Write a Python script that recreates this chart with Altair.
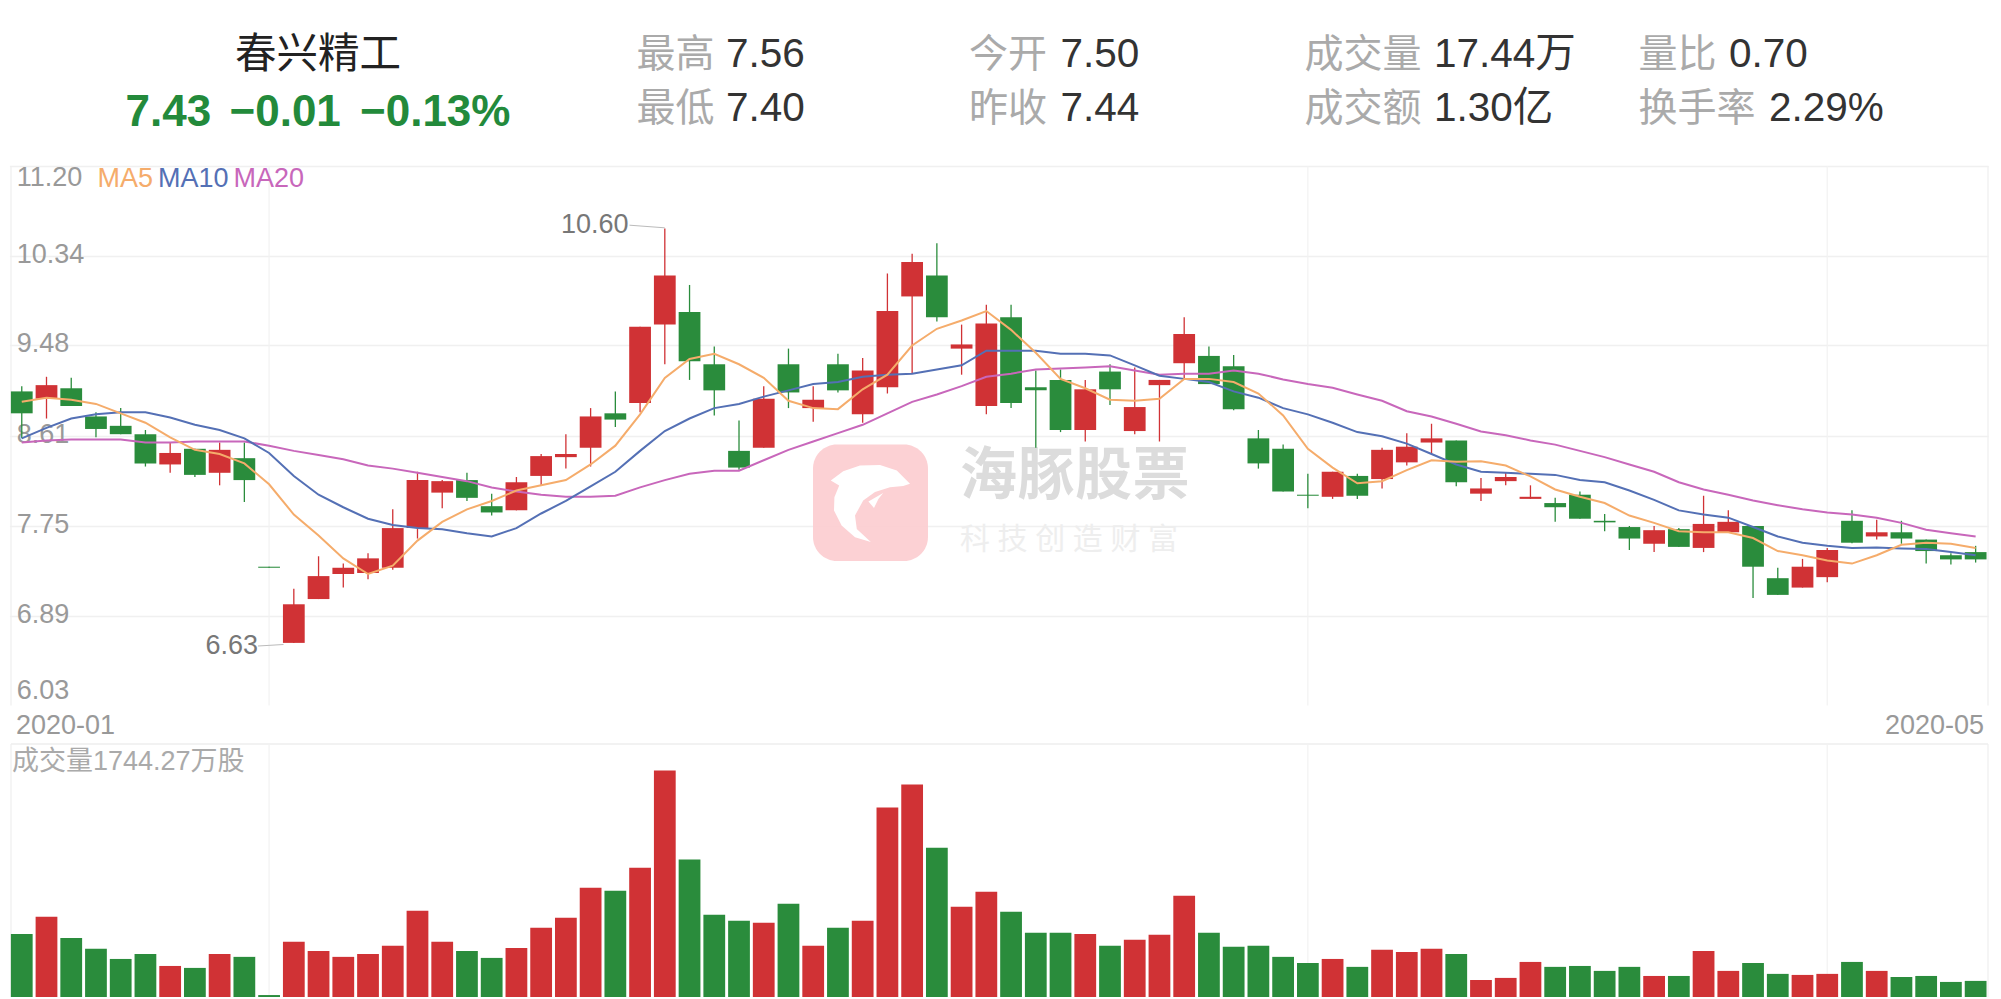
import altair as alt
import pandas as pd

body_top = [9.04,9.10,9.07,8.80,8.71,8.63,8.45,8.49,8.48,8.40,7.36,7.00,7.27,7.35,7.44,7.73,8.19,8.18,8.19,7.94,
            8.17,8.42,8.44,8.80,8.83,9.66,10.15,9.80,9.30,8.47,8.97,9.30,8.96,9.30,9.24,9.81,10.28,10.15,9.49,9.69,
            9.75,9.08,9.15,9.06,9.23,8.89,9.15,9.59,9.38,9.28,8.59,8.49,8.05,8.27,8.23,8.48,8.51,8.59,8.57,8.11,
            8.22,8.03,7.97,8.05,7.80,7.74,7.71,7.72,7.77,7.79,7.75,7.25,7.36,7.52,7.80,7.69,7.69,7.62,7.47,7.50]
body_bot = [8.83,8.97,8.90,8.68,8.63,8.35,8.34,8.24,8.26,8.19,7.35,6.63,7.05,7.29,7.30,7.35,7.73,8.07,8.02,7.88,
            7.90,8.23,8.41,8.50,8.77,8.93,9.68,9.33,9.05,8.31,8.50,9.03,8.88,9.05,8.82,9.08,9.95,9.75,9.45,8.90,
            8.93,9.05,8.67,8.67,9.06,8.66,9.10,9.31,9.11,8.87,8.35,8.08,8.04,8.03,8.04,8.20,8.36,8.55,8.17,8.06,
            8.18,8.01,7.93,7.82,7.785,7.63,7.58,7.55,7.54,7.69,7.36,7.09,7.16,7.26,7.59,7.65,7.63,7.51,7.43,7.43]
high = [9.09,9.18,9.17,8.84,8.88,8.67,8.55,8.49,8.55,8.55,7.36,7.15,7.46,7.39,7.49,7.91,8.27,8.19,8.26,8.06,
        8.22,8.44,8.63,8.88,9.04,9.66,10.60,10.06,9.47,8.76,9.09,9.45,9.09,9.40,9.36,10.17,10.36,10.46,9.68,9.87,
        9.87,9.24,9.25,9.15,9.30,9.27,9.15,9.75,9.47,9.39,8.67,8.53,8.25,8.27,8.25,8.50,8.64,8.73,8.57,8.21,
        8.26,8.14,8.02,8.08,7.865,7.75,7.75,7.73,8.04,7.90,7.75,7.35,7.435,7.54,7.90,7.81,7.80,7.62,7.49,7.56]
low = [8.59,8.78,8.90,8.60,8.63,8.32,8.26,8.22,8.14,7.98,7.35,6.63,7.05,7.16,7.24,7.33,7.63,7.92,7.99,7.85,
       7.90,8.14,8.30,8.32,8.70,8.84,9.30,9.15,8.81,8.29,8.50,8.88,8.75,9.03,8.74,9.02,9.21,9.71,9.20,8.82,
       8.88,8.50,8.65,8.56,8.91,8.63,8.56,9.16,9.11,8.86,8.30,8.08,7.92,8.01,8.01,8.11,8.33,8.44,8.13,7.99,
       8.14,8.01,7.79,7.82,7.70,7.52,7.50,7.55,7.50,7.69,7.06,7.09,7.16,7.21,7.585,7.62,7.58,7.39,7.38,7.40]
direction = list("grggggrgrgg" "rrrrrrr" "gg" "rrrr" "g" "rr" "ggg" "r" "g" "r" "g" "rrr" "g" "rr" "ggg" "r" "g" "rrr"
                 "ggggg" "r" "g" "rrr" "g" "rrr" "gggg" "r" "g" "rr" "gg" "rr" "g" "r" "gggg")
ma5 = [8.94,8.98,8.96,8.92,8.83,8.74,8.60,8.48,8.44,8.35,8.15,7.86,7.66,7.44,7.29,7.37,7.61,7.79,7.91,7.99,
       8.09,8.14,8.19,8.34,8.52,8.82,9.17,9.35,9.40,9.30,9.17,8.95,8.88,8.87,9.06,9.20,9.48,9.64,9.72,9.81,
       9.63,9.41,9.16,9.07,8.96,8.95,8.97,9.16,9.16,9.13,9.02,8.81,8.49,8.31,8.16,8.18,8.285,8.38,8.365,8.37,
       8.33,8.225,8.10,8.03,7.97,7.85,7.78,7.70,7.69,7.69,7.635,7.51,7.47,7.42,7.39,7.47,7.57,7.59,7.58,7.54]
ma10 = [8.59,8.69,8.78,8.82,8.84,8.84,8.79,8.72,8.67,8.59,8.45,8.23,8.05,7.93,7.82,7.76,7.73,7.72,7.68,7.65,
        7.73,7.87,7.99,8.13,8.27,8.47,8.66,8.78,8.88,8.92,8.99,9.05,9.11,9.13,9.18,9.20,9.21,9.25,9.29,9.43,
        9.43,9.43,9.40,9.40,9.385,9.29,9.19,9.16,9.13,9.04,8.98,8.88,8.82,8.74,8.65,8.61,8.54,8.44,8.34,8.27,
        8.26,8.25,8.24,8.19,8.17,8.09,8.00,7.90,7.86,7.83,7.74,7.65,7.59,7.56,7.54,7.545,7.535,7.53,7.50,7.47]
ma20 = [8.55,8.57,8.58,8.58,8.58,8.55,8.55,8.56,8.56,8.56,8.52,8.47,8.43,8.39,8.33,8.30,8.26,8.22,8.18,8.12,
        8.08,8.05,8.03,8.03,8.04,8.12,8.19,8.25,8.28,8.28,8.38,8.48,8.56,8.64,8.72,8.83,8.94,9.01,9.09,9.18,
        9.21,9.25,9.26,9.27,9.28,9.24,9.20,9.21,9.21,9.24,9.21,9.155,9.11,9.075,9.01,8.95,8.85,8.80,8.73,8.655,
        8.62,8.57,8.53,8.47,8.41,8.34,8.27,8.17,8.10,8.05,7.995,7.95,7.91,7.88,7.86,7.83,7.78,7.715,7.68,7.65]
volume = [486,618,455,371,293,332,239,224,332,309,15,425,355,309,332,394,664,425,355,301,
          378,533,610,841,818,996,1744.27,1058,633,587,571,718,394,533,587,1459,1636,1150,695,811,
          656,494,494,486,394,440,479,780,494,386,394,309,262,293,232,363,347,371,332,131,
          147,270,232,239,201,232,162,162,355,201,262,178,170,178,270,201,154,162,116,124]
price_ticks = [11.20, 10.34, 9.48, 8.61, 7.75, 6.89, 6.03]
month_marks = [10, 52, 73]
n = 80
for a in (body_top, body_bot, high, low, direction, ma5, ma10, ma20, volume):
    assert len(a) == n, len(a)

RED, GREEN = "#d03235", "#2a8c3c"
GRID = "#f0f0f0"
FONT = "Liberation Sans, Noto Sans CJK SC"
W, KH, VH, HH = 1978.6, 539.5, 253, 119.5

df = pd.DataFrame(dict(i=range(n), top=body_top, bot=body_bot, high=high, low=low, d=direction,
                       ma5=ma5, ma10=ma10, ma20=ma20, vol=volume))
xenc = alt.X("i:O", axis=None, scale=alt.Scale(paddingInner=0.12, paddingOuter=0.06, round=False))
cenc = alt.Color("d:N", legend=None, scale=alt.Scale(domain=["r", "g"], range=[RED, GREEN]))

def txt(s, x, y, size, color, align="left", weight=400, baseline="middle"):
    return alt.Chart(df.head(1)).mark_text(font=FONT, fontSize=size, fontWeight=weight, color=color,
                                           align=align, baseline=baseline).encode(
        x=alt.value(x), y=alt.value(y), text=alt.value(s))

# ---- header (true page px => x-9.4, y-8)
def hx(v): return v - 9.4
def hy(v): return v - 8
LAB, VAL = "#aaaaaa", "#333333"
R1, R2 = 55, 109
head_items = [
    ("最高", 636.5, R1, LAB, 39), ("7.56", 726, R1, VAL, 40.5),
    ("最低", 636.5, R2, LAB, 39), ("7.40", 726, R2, VAL, 40.5),
    ("今开", 969, R1, LAB, 39), ("7.50", 1060.5, R1, VAL, 40.5),
    ("昨收", 969, R2, LAB, 39), ("7.44", 1060.5, R2, VAL, 40.5),
    ("成交量", 1304.5, R1, LAB, 39), ("17.44万", 1434, R1, VAL, 40.5),
    ("成交额", 1304.5, R2, LAB, 39), ("1.30亿", 1434, R2, VAL, 40.5),
    ("量比", 1638.5, R1, LAB, 39), ("0.70", 1729, R1, VAL, 40.5),
    ("换手率", 1638.5, R2, LAB, 39), ("2.29%", 1769, R2, VAL, 40.5),
]
head_layers = [txt(s, hx(x), hy(y), sz, c) for s, x, y, c, sz in head_items]
head_layers += [txt("春兴精工", hx(318), hy(56), 41.5, "#222222", align="center")]
head_layers += [txt(s, hx(x), hy(112.5), 44, "#238a3b", weight=700)
                for s, x in [("7.43", 125.5), ("−0.01", 229.5), ("−0.13%", 360)]]
header = alt.layer(*head_layers).properties(width=W, height=HH)

# ---- k-line panel
yscale = alt.Scale(domain=[6.03, 11.20], nice=False, zero=False)
yaxis = alt.Axis(values=price_ticks, format=".2f", domain=False, ticks=False, tickSize=0, title=None,
                 grid=True, gridColor=GRID, gridWidth=1.3,
                 gridOpacity={"condition": {"test": "datum.value < 6.1", "value": 0}, "value": 1},
                 labelAlign="left", labelPadding=-6.8, labelOffset=-1.5,
                 labelFlush=True, labelFontSize=27, labelColor="#999999", labelFont=FONT,
                 labelOverlap=False)
kx = lambda v: v - 9.4
ky = lambda v: v - 165.5

frame = alt.Chart(df.head(1)).mark_rule(color=GRID, strokeWidth=1.3).encode(
    x=alt.value(kx(11)), y=alt.value(0), y2=alt.value(KH))
frame_r = alt.Chart(df.head(1)).mark_rule(color=GRID, strokeWidth=1.3).encode(
    x=alt.value(kx(1988)), y=alt.value(0), y2=alt.value(KH))
vgrid = alt.Chart(df[df.i.isin(month_marks)]).mark_rule(color="#f2f2f2", strokeWidth=1.2).encode(
    x=xenc, y=alt.value(0), y2=alt.value(KH))

logo = alt.Chart(df.head(1)).mark_rect(color="#fccdd0", opacity=0.92, cornerRadius=24).encode(
    x=alt.value(kx(813)), x2=alt.value(kx(928)), y=alt.value(ky(444)), y2=alt.value(ky(560.5)))
DOLPHIN = ("M-0.98,-0.55 L-0.67,-0.78 L-0.25,-0.925 L0.25,-0.94 L0.67,-0.8 L1,-0.47 L0.83,-0.41 L0.5,-0.38 "
           "L0.125,-0.26 L-0.17,-0.05 L-0.375,0.325 L-0.33,0.66 L0.02,0.99 L-0.375,0.87 L-0.71,0.575 "
           "L-0.9,0.2 L-0.89,-0.13 L-0.77,-0.425 Z M0.33,-0.24 L-0.04,-0.025 L0.1,0.14 L0.21,-0.09 Z")
dolphin = alt.Chart(df.head(1)).mark_point(shape=DOLPHIN, filled=True, color="#ffffff", opacity=1, size=6400).encode(
    x=alt.value(kx(870)), y=alt.value(ky(502)))
wm_main = [txt(c, kx(960 + 57.5 * k), ky(476), 57, "#dcdcdc", weight=700) for k, c in enumerate("海豚股票")]
wm_sub = [txt(c, kx(960 + 37.6 * k), ky(539), 30, "#eeeeee") for k, c in enumerate("科技创造财富")]

wick = alt.Chart(df).mark_rule(strokeWidth=1.3).encode(
    x=xenc, y=alt.Y("high:Q", scale=yscale, axis=yaxis), y2="low:Q", color=cenc)
body = alt.Chart(df).mark_bar().encode(
    x=xenc, y=alt.Y("top:Q", scale=yscale, axis=yaxis), y2="bot:Q", color=cenc)

def ma(field, color):
    return alt.Chart(df).mark_line(color=color, strokeWidth=2).encode(
        x=xenc, y=alt.Y(f"{field}:Q", scale=yscale, axis=yaxis))

hi_lead = alt.Chart(df.head(1)).mark_rule(color="#bbbbbb", strokeWidth=1).encode(
    x=alt.value(kx(629.5)), x2=alt.value(kx(664.7)), y=alt.value(ky(224.7)), y2=alt.value(ky(227.3)))
lo_lead = alt.Chart(df.head(1)).mark_rule(color="#bbbbbb", strokeWidth=1).encode(
    x=alt.value(kx(258)), x2=alt.value(kx(283.5)), y=alt.value(ky(645.5)), y2=alt.value(ky(644)))

kline = alt.layer(
    frame, frame_r, vgrid, logo, dolphin, *wm_main, *wm_sub, wick, body,
    ma("ma20", "#c867bb"), ma("ma10", "#5470b5"), ma("ma5", "#f5ac6b"),
    hi_lead, lo_lead,
    txt("10.60", kx(561), ky(224), 27, "#777777"),
    txt("6.63", kx(205.5), ky(645.5), 27, "#777777"),
    txt("MA5", kx(97.5), ky(178), 27, "#f5ac6b"),
    txt("MA10", kx(158), ky(178), 27, "#5470b5"),
    txt("MA20", kx(233.5), ky(178), 27, "#c867bb"),
    txt("2020-01", kx(16), ky(725), 27, "#999999"),
    txt("2020-05", kx(1984), ky(725), 27, "#999999", align="right"),
).properties(width=W, height=KH)

# ---- volume panel
vleft = alt.Chart(df.head(1)).mark_rule(color=GRID, strokeWidth=1.3).encode(
    x=alt.value(kx(11)), y=alt.value(0), y2=alt.value(VH))
vright = alt.Chart(df.head(1)).mark_rule(color=GRID, strokeWidth=1.3).encode(
    x=alt.value(kx(1988)), y=alt.value(0), y2=alt.value(VH))
vtop = alt.Chart(df.head(1)).mark_rule(color="#eeeeee", strokeWidth=1.5).encode(
    x=alt.value(kx(11)), x2=alt.value(kx(1988)), y=alt.value(0))
vvgrid = alt.Chart(df[df.i.isin(month_marks)]).mark_rule(color="#f2f2f2", strokeWidth=1.2).encode(
    x=xenc, y=alt.value(0), y2=alt.value(VH))
vbars = alt.Chart(df).mark_bar().encode(
    x=xenc, y=alt.Y("vol:Q", axis=None, scale=alt.Scale(domain=[0, 1948], nice=False)), color=cenc)
vol = alt.layer(
    vleft, vright, vtop, vvgrid, vbars,
    txt("成交量1744.27万股", kx(12), 17.5, 27, "#aaaaaa"),
).properties(width=W, height=VH)

chart = alt.vconcat(header, kline, vol, spacing=38, bounds="flush").properties(
    padding={"left": 1.4, "top": 0, "right": 0, "bottom": 0}
).resolve_scale(color="independent").configure_view(stroke=None)
chart.save("out.html", embed_options={"renderer": "svg", "actions": False})
